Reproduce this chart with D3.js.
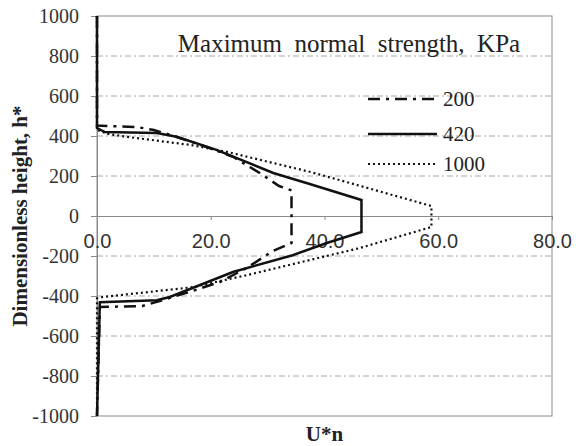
<!DOCTYPE html>
<html>
<head>
<meta charset="utf-8">
<script src="https://cdn.jsdelivr.net/npm/d3@7/dist/d3.min.js"></script>
<style>
  html, body { margin: 0; padding: 0; background: #fff; }
  svg { display: block; }
</style>
</head>
<body>
<svg id="chart" width="576" height="446"></svg>
<script>
// Velocity profiles U*n against dimensionless height h* for three strengths (KPa)
const seriesNames = ["200", "420", "1000"];

const h200 = [1000, 452, 450, 445, 430, 400, 345, 296, 215, 150, 128, -135, -175, -260, -330, -375, -425, -450, -455, -1000];
const u200 = [0, 0, 1.8, 7, 10, 13.5, 19.3, 23.9, 28.6, 32, 34.2, 34.2, 30.9, 26.3, 21.6, 16.8, 11, 8, 0.5, 0];

const h420 = [1000, 440, 420, 415, 396, 331, 215, 160, 80, -80, -135, -196, -280, -405, -421, -431, -1000];
const u420 = [0, 0, 1.4, 10.5, 14, 21, 31, 37.4, 46.5, 46.5, 40.4, 34.4, 23.9, 12.8, 10.5, 0.5, 0];

const h1000 = [1000, 430, 410, 395, 355, 321, 221, 180, 50, -55, -161, -296, -356, -405, -412, -1000];
const u1000 = [0, 0, 2, 5.5, 16.5, 22.8, 37.4, 42.6, 58.8, 58.8, 46.1, 26.3, 16.8, 1, 0, 0];

const yTicks = [1000, 800, 600, 400, 200, 0, -200, -400, -600, -800, -1000];
const xTicks = [0, 20, 40, 60, 80];

const legendTitle = "Maximum  normal  strength,  KPa";
const yTitle = "Dimensionless height, h*";
const xTitle = "U*n";

const serif = "'Liberation Serif', 'Times New Roman', serif";
const sans = "'Liberation Sans', Arial, sans-serif";

const svg = d3.select("#chart");
const plotL = 97, plotR = 552, plotT = 16, plotB = 416;

const x = d3.scaleLinear().domain([0, 80]).range([plotL, plotR]);
const y = d3.scaleLinear().domain([-1000, 1000]).range([plotB, plotT]);

// dash-dot gridlines
svg.append("g")
  .selectAll("line")
  .data(yTicks.filter(v => v !== 0 && Math.abs(v) !== 1000))
  .join("line")
  .attr("x1", plotL).attr("x2", plotR)
  .attr("y1", d => y(d)).attr("y2", d => y(d))
  .attr("stroke", "#a8a8a8")
  .attr("stroke-width", 1)
  .attr("stroke-dasharray", "6,3,2,3");

// plot frame
svg.append("rect")
  .attr("x", plotL).attr("y", plotT)
  .attr("width", plotR - plotL).attr("height", plotB - plotT)
  .attr("fill", "none")
  .attr("stroke", "#8a8a8a")
  .attr("stroke-width", 1);

// y axis
const yAxis = svg.append("g")
  .attr("transform", `translate(${plotL},0)`)
  .attr("font-family", serif)
  .call(d3.axisLeft(y).tickValues(yTicks).tickSize(6).tickPadding(12).tickFormat(d => String(d)));
yAxis.attr("font-family", serif).attr("font-size", 20);
yAxis.select(".domain").attr("stroke", "#8a8a8a");
yAxis.selectAll(".tick line").attr("stroke", "#8a8a8a");
yAxis.selectAll(".tick text").attr("fill", "#333");

// x axis along h* = 0
const xAxis = svg.append("g")
  .attr("transform", `translate(0,${y(0)})`)
  .call(d3.axisBottom(x).tickValues(xTicks).tickSize(4).tickPadding(14).tickFormat(d3.format(".1f")));
xAxis.attr("font-family", sans).attr("font-size", 20);
xAxis.select(".domain").attr("stroke", "#8a8a8a");
xAxis.selectAll(".tick line").attr("stroke", "#8a8a8a");
xAxis.selectAll(".tick text").attr("fill", "#333");

// series styles
const styles = {
  "200": { width: 2.5, dash: "12,6,3,6" },
  "420": { width: 2.5, dash: null },
  "1000": { width: 2.2, dash: "2,3" }
};

const series = [
  { name: "200", h: h200, u: u200 },
  { name: "420", h: h420, u: u420 },
  { name: "1000", h: h1000, u: u1000 }
];

const line = d3.line().x(d => x(d[0])).y(d => y(d[1]));

svg.append("g")
  .selectAll("path")
  .data(series)
  .join("path")
  .attr("d", s => line(s.u.map((u, i) => [u, s.h[i]])))
  .attr("fill", "none")
  .attr("stroke", "#111")
  .attr("stroke-width", s => styles[s.name].width)
  .attr("stroke-dasharray", s => styles[s.name].dash)
  .attr("stroke-linejoin", "miter");

// legend
svg.append("text")
  .attr("x", 349).attr("y", 52)
  .attr("text-anchor", "middle")
  .attr("font-family", serif)
  .attr("font-size", 25)
  .attr("fill", "#222")
  .style("white-space", "pre")
  .text(legendTitle);

const legendRows = [99, 134, 164];
const lg = svg.append("g");
series.forEach((s, i) => {
  const ly = legendRows[i];
  lg.append("line")
    .attr("x1", 368).attr("x2", 437)
    .attr("y1", ly).attr("y2", ly)
    .attr("stroke", "#111")
    .attr("stroke-width", styles[s.name].width)
    .attr("stroke-dasharray", styles[s.name].dash);
  lg.append("text")
    .attr("x", 443).attr("y", ly)
    .attr("dy", "0.35em")
    .attr("font-family", serif)
    .attr("font-size", 21)
    .attr("fill", "#222")
    .text(s.name);
});

// axis titles
svg.append("text")
  .attr("transform", `translate(27,${(plotT + plotB) / 2}) rotate(-90)`)
  .attr("text-anchor", "middle")
  .attr("font-family", serif)
  .attr("font-weight", "bold")
  .attr("font-size", 21)
  .attr("fill", "#222")
  .text(yTitle);

svg.append("text")
  .attr("x", (plotL + plotR) / 2).attr("y", 441)
  .attr("text-anchor", "middle")
  .attr("font-family", serif)
  .attr("font-weight", "bold")
  .attr("font-size", 21)
  .attr("fill", "#222")
  .text(xTitle);
</script>
</body>
</html>
